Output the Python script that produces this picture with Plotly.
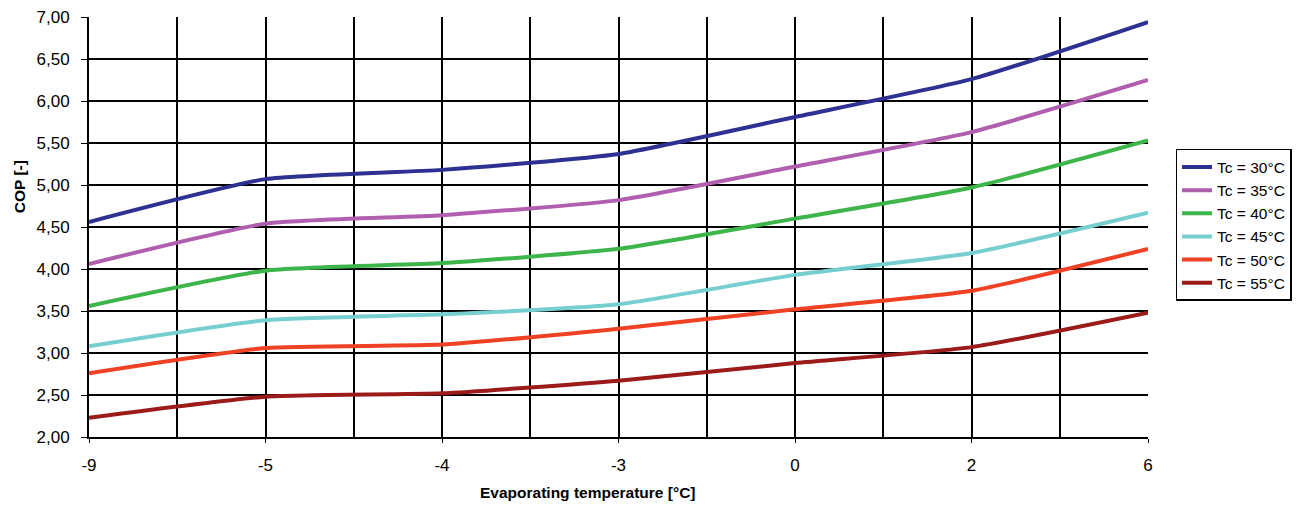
import plotly.graph_objects as go

categories = ["-9", "-5", "-4", "-3", "0", "2", "6"]
series_names = ["Tc = 30°C", "Tc = 35°C", "Tc = 40°C", "Tc = 45°C", "Tc = 50°C", "Tc = 55°C"]
tc30 = [4.56, 5.07, 5.18, 5.37, 5.81, 6.26, 6.94]
tc35 = [4.06, 4.54, 4.64, 4.82, 5.22, 5.63, 6.25]
tc40 = [3.56, 3.98, 4.07, 4.24, 4.60, 4.97, 5.53]
tc45 = [3.08, 3.39, 3.46, 3.58, 3.93, 4.19, 4.67]
tc50 = [2.76, 3.06, 3.10, 3.29, 3.52, 3.74, 4.24]
tc55 = [2.23, 2.48, 2.52, 2.67, 2.88, 3.07, 3.48]
colors = ["#2E3192", "#B05FAF", "#3DB54A", "#76CFCE", "#EF4123", "#9B1B1B"]

all_series = [tc30, tc35, tc40, tc45, tc50, tc55]
xpos = list(range(len(categories)))

fig = go.Figure()
for i, (name, vals, col) in enumerate(zip(series_names, all_series, colors)):
    fig.add_trace(go.Scatter(
        x=xpos, y=vals, name=name, mode="lines",
        line=dict(color=col, width=4, shape="spline", smoothing=0.5),
        legendgroup=f"g{i}",
    ))

font = "Liberation Sans, Arial, sans-serif"
fig.update_layout(
    width=1315, height=506,
    margin=dict(l=81, r=175, t=9, b=77, autoexpand=False),
    plot_bgcolor="white", paper_bgcolor="white",
    separators=",.",
    font=dict(family=font, size=15.5, color="black"),
    showlegend=True,
    legend=dict(
        x=1.026, y=0.505, xanchor="left", yanchor="middle",
        bordercolor="black", borderwidth=1.5, bgcolor="white",
        font=dict(size=15.5), tracegroupgap=0,
    ),
    xaxis=dict(
        range=[0, len(categories) - 1], automargin=False,
        tickmode="array", tickvals=xpos, ticktext=categories,
        showgrid=True, gridcolor="black", gridwidth=1.5,
        minor=dict(dtick=0.5, showgrid=True, gridcolor="black", gridwidth=1.5, ticks=""),
        showline=True, linecolor="black", linewidth=2,
        ticks="outside", ticklen=4, tickcolor="black",
        tickfont=dict(size=17), ticklabelstandoff=8, ticklabeloverflow="allow",
        zeroline=False,
    ),
    yaxis=dict(
        range=[2, 7], dtick=0.5, tickformat=".2f", automargin=False,
        showgrid=True, gridcolor="black", gridwidth=1.5,
        showline=True, linecolor="black", linewidth=2,
        ticks="outside", ticklen=6, tickcolor="black",
        tickfont=dict(size=17), ticklabelstandoff=8, ticklabeloverflow="allow",
        zeroline=False,
    ),
    annotations=[
        dict(text="<b>Evaporating temperature [°C]</b>", xref="paper", yref="paper",
             x=0.471, y=-0.133, xanchor="center", yanchor="middle",
             showarrow=False, font=dict(size=15.5)),
        dict(text="<b>COP [-]</b>", xref="paper", yref="paper",
             x=-0.066, y=0.595, xanchor="center", yanchor="middle",
             textangle=-90, showarrow=False, font=dict(size=15.5)),
    ],
)

fig.write_html("out.html")
